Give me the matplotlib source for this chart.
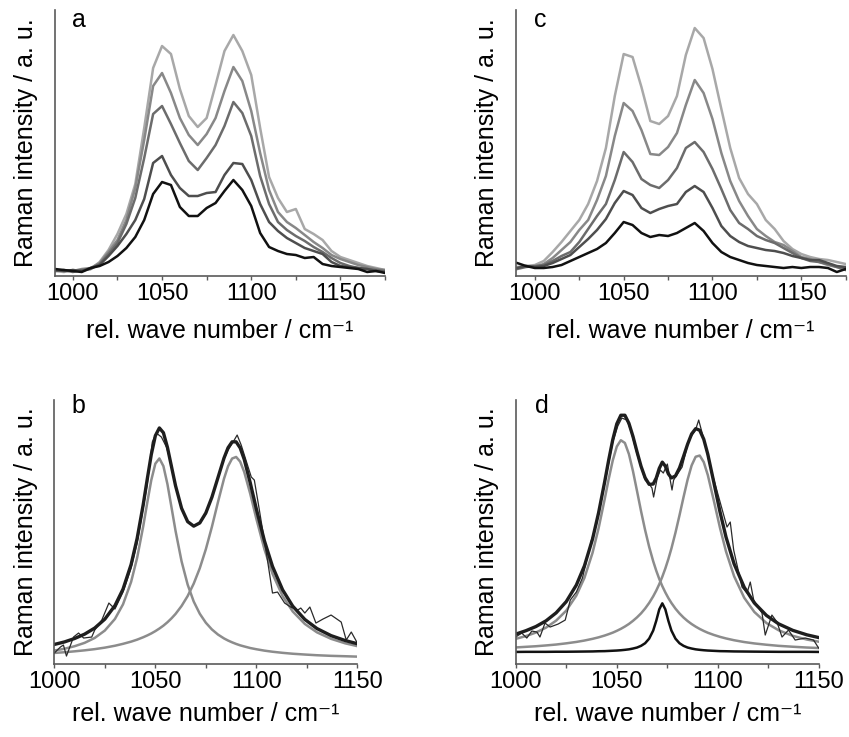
import numpy as np
import matplotlib
matplotlib.use("Agg")
import matplotlib.pyplot as plt
from matplotlib.ticker import MultipleLocator

plt.rcParams['font.family'] = ['Liberation Sans', 'DejaVu Sans']

# ---- panels a / c : raw spectra (heights in arbitrary units) ----
wn_top = np.arange(990, 1180, 5)

a_1 = [7, 6, 5, 4, 8, 10, 14, 20, 28, 39, 56, 82, 94, 91, 69, 60, 60, 68, 73, 85,
       96, 86, 70, 43, 29, 25, 22, 21, 18, 19, 12, 10, 9, 8, 7, 4, 5, 3]
a_2 = [6, 5, 6, 5, 8, 11, 20, 30, 42, 56, 77, 113, 120, 101, 88, 80, 80, 83, 84, 101,
       113, 112, 96, 72, 54, 45, 38, 33, 28, 25, 22, 14, 10, 9, 8, 7, 5, 4]
a_3 = [5, 6, 4, 6, 7, 12, 22, 33, 52, 78, 118, 162, 170, 152, 133, 115, 106, 118, 131, 150,
       174, 163, 140, 100, 72, 54, 46, 40, 35, 29, 24, 18, 13, 10, 8, 7, 6, 5]
a_4 = [6, 5, 5, 7, 8, 13, 24, 36, 56, 88, 136, 190, 203, 183, 158, 141, 131, 142, 158, 185,
       209, 195, 165, 123, 86, 64, 54, 48, 41, 34, 28, 21, 17, 14, 11, 9, 7, 6]
a_5 = [5, 4, 6, 5, 7, 14, 26, 42, 62, 92, 148, 208, 230, 222, 187, 160, 149, 158, 191, 225,
       241, 225, 201, 148, 99, 78, 64, 67, 47, 42, 36, 25, 19, 16, 13, 10, 8, 6]

c_1 = [13, 10, 8, 8, 9, 11, 15, 19, 23, 27, 33, 43, 54, 51, 43, 39, 41, 40, 43, 48,
       53, 45, 33, 24, 19, 16, 13, 11, 10, 9, 8, 9, 8, 9, 9, 8, 4, 7]
c_2 = [8, 10, 9, 10, 13, 17, 21, 29, 37, 46, 57, 73, 85, 81, 68, 63, 67, 70, 72, 84,
       90, 84, 68, 50, 40, 34, 30, 28, 26, 25, 23, 20, 18, 16, 16, 13, 10, 9]
c_3 = [7, 9, 10, 11, 15, 20, 24, 34, 47, 60, 72, 96, 124, 114, 97, 91, 88, 96, 108, 128,
       134, 124, 107, 87, 66, 53, 47, 40, 36, 33, 28, 23, 18, 15, 14, 12, 9, 6]
c_4 = [8, 10, 9, 12, 18, 26, 34, 46, 56, 76, 100, 140, 173, 165, 146, 122, 121, 129, 143, 171,
       196, 183, 157, 123, 95, 75, 60, 47, 40, 34, 31, 25, 19, 17, 14, 11, 9, 8]
c_5 = [9, 10, 11, 15, 24, 34, 45, 56, 72, 95, 128, 180, 222, 219, 189, 155, 152, 160, 180, 221,
       248, 238, 207, 167, 128, 98, 82, 72, 56, 47, 35, 27, 22, 19, 17, 16, 14, 12]

top_colors = ['#111111', '#4e4e4e', '#6c6c6c', '#888888', '#a8a8a8']

# ---- panel b : two-band fit ----
b_wn = [1000, 1005, 1010, 1015, 1020, 1025, 1030, 1034, 1038, 1041, 1044, 1046, 1048,
        1050, 1052, 1054, 1056, 1058, 1060, 1063, 1066, 1069, 1072, 1075, 1078, 1081,
        1084, 1086, 1088, 1090, 1092, 1094, 1097, 1100, 1104, 1108, 1113, 1118, 1124,
        1130, 1137, 1144, 1150]
b_peak1 = [13.5, 15.3, 17.8, 21.2, 26.1, 33.5, 45.1, 59.7, 82.1, 106.3, 137.7, 161.4, 184.0,
           200.4, 205.6, 197.9, 179.8, 156.7, 133.2, 102.6, 79.4, 62.5, 50.3, 41.3, 34.6, 29.5,
           25.6, 23.5, 21.7, 20.1, 18.7, 17.6, 16.0, 14.8, 13.4, 12.3, 11.2, 10.3, 9.5,
           8.8, 8.2, 7.8, 7.4]
b_peak2 = [11.1, 11.8, 12.7, 13.7, 14.9, 16.4, 18.3, 20.2, 22.4, 24.4, 26.8, 28.6, 30.6,
           32.9, 35.5, 38.4, 41.8, 45.7, 50.1, 58.1, 68.0, 80.4, 95.8, 114.8, 137.2, 161.9,
           185.4, 197.8, 205.5, 207.1, 202.4, 192.1, 170.1, 145.3, 114.8, 90.3, 68.0, 52.6, 40.1,
           31.7, 25.2, 20.7, 17.9]
b_base = 5.0

b_data_wn = [1000, 1003, 1004.5, 1006, 1009.5, 1012, 1014.5, 1018.5, 1020, 1023.5, 1027, 1030,
             1034, 1038, 1041, 1044, 1046, 1048.5, 1050.5, 1053, 1055.5, 1058, 1060, 1063, 1066,
             1069, 1072, 1075, 1078, 1081, 1084, 1086, 1088.5, 1090.5, 1092.5, 1095, 1097.5,
             1099, 1101.5, 1105.5, 1108, 1110.5, 1114, 1117, 1120.5, 1122, 1124, 1126.5,
             1129.5, 1133, 1137, 1142, 1144.5, 1147, 1150]
b_data = [11, 17, 19, 8, 27, 31, 26, 27, 34, 44, 61, 55, 72, 96, 121, 156, 180, 222, 231, 227,
          217, 199, 178, 155, 142, 138, 141, 150, 167, 186, 205, 214, 222, 229, 219, 203, 187,
          184, 154, 104, 71, 72, 61, 57, 54, 56, 51, 57, 41, 45, 49, 42, 24, 32, 21]

# ---- panel d : three-band fit ----
d_wn = [1000, 1005, 1010, 1015, 1020, 1025, 1030, 1034, 1038, 1041, 1044, 1046, 1048, 1050,
        1052, 1054, 1056, 1058, 1060, 1062, 1064, 1066, 1068, 1069.5, 1071, 1072.5, 1074,
        1075.5, 1077, 1079, 1081, 1083, 1085, 1087, 1089, 1091, 1093, 1095, 1098, 1101,
        1104, 1108, 1113, 1118, 1124, 1130, 1137, 1144, 1150]
d_peak1 = [25.2, 27.9, 31.5, 36.4, 43.4, 53.4, 68.5, 86.2, 111.2, 135.8, 164.8, 185.1, 203.6,
           217.5, 223.8, 221.1, 209.9, 192.9, 173.0, 152.8, 134.0, 117.2, 102.8, 93.4, 85.1,
           77.9, 71.6, 66.0, 61.1, 55.4, 50.6, 46.5, 43.0, 40.0, 37.4, 35.1, 33.1, 31.3, 29.1,
           27.2, 25.6, 23.8, 22.0, 20.6, 19.3, 18.2, 17.3, 16.5, 16.0]
d_peak2 = [16.6, 17.2, 17.8, 18.6, 19.5, 20.7, 22.1, 23.5, 25.2, 26.7, 28.5, 29.9, 31.4,
           33.2, 35.2, 37.5, 40.1, 43.2, 46.7, 50.7, 55.5, 61.1, 67.7, 73.4, 79.9,
           87.3, 95.6, 105.0, 115.5, 131.3, 148.7, 166.9, 184.3, 198.6, 207.3, 208.5, 201.9,
           189.0, 163.2, 136.4, 112.6, 87.8, 66.3, 52.1, 41.0, 33.8, 28.2, 24.5, 22.3]
d_peak3 = [12.1, 12.2, 12.2, 12.2, 12.3, 12.3, 12.4, 12.5, 12.6, 12.8, 12.9, 13.1, 13.3,
           13.5, 13.8, 14.2, 14.7, 15.5, 16.5, 18.2, 20.8, 25.4, 33.5, 43.2, 54.7,
           60.7, 54.7, 43.2, 33.5, 25.4, 20.8, 18.2, 16.5, 15.5, 14.7, 14.2, 13.8, 13.5, 13.2,
           12.9, 12.8, 12.6, 12.5, 12.4, 12.3, 12.2, 12.2, 12.2, 12.1]
d_base = 12.0

d_data_wn = [1000, 1003, 1005.5, 1008, 1010.5, 1012, 1014.5, 1017, 1021, 1024.5, 1027, 1030,
             1033, 1037.5, 1040, 1044, 1048, 1050.5, 1052.5, 1055, 1057, 1060, 1062.5, 1064,
             1066, 1067.4, 1068.2, 1070, 1071.5, 1073, 1075, 1077.3, 1078.1, 1080, 1082.3,
             1085.6, 1088.9, 1090.5, 1092.2, 1095.5, 1097.1, 1100.4, 1104.5, 1106.1, 1107.8,
             1111.9, 1114.4, 1116, 1117.7, 1121.8, 1123.4, 1126.7, 1129.2, 1131.7, 1134.9,
             1138.2, 1143.2, 1147.3, 1149.8]
d_data = [27, 31, 26, 33, 32, 27, 41, 37, 40, 44, 64, 72, 86, 124, 140, 180, 222, 238, 246,
          244, 233, 210, 194, 184, 180, 176, 167, 186, 194, 191, 200, 174, 184, 190, 197, 224,
          234, 244, 231, 204, 191, 167, 137, 142, 114, 77, 71, 82, 64, 51, 29, 49, 42, 27, 34,
          24, 26, 24, 16]

band_gray = '#8c8c8c'
x_title = 'rel. wave number / cm\u207b\u00b9'

fig = plt.figure(figsize=(8.49, 7.37), dpi=100)
ax_a = fig.add_axes([0.0648, 0.6255, 0.3887, 0.3609])
ax_c = fig.add_axes([0.6074, 0.6255, 0.3887, 0.3609])
ax_b = fig.add_axes([0.0640, 0.0990, 0.3569, 0.3582])
ax_d = fig.add_axes([0.6074, 0.0990, 0.3573, 0.3582])

for ys, col in zip([a_5, a_4, a_3, a_2, a_1], top_colors[::-1]):
    ax_a.plot(wn_top, ys, color=col, lw=1.8)
for ys, col in zip([c_5, c_4, c_3, c_2, c_1], top_colors[::-1]):
    ax_c.plot(wn_top, ys, color=col, lw=1.8)

b_fit = np.array(b_peak1) + np.array(b_peak2) - b_base
ax_b.plot(b_wn, b_peak1, color=band_gray, lw=1.8)
ax_b.plot(b_wn, b_peak2, color=band_gray, lw=1.8)
ax_b.plot(b_data_wn, b_data, color='#2a2a2a', lw=0.9)
ax_b.plot(b_wn, b_fit, color='#1e1e1e', lw=2.4)

d_fit = np.array(d_peak1) + np.array(d_peak2) + np.array(d_peak3) - 2 * d_base
ax_d.plot(d_wn, d_peak1, color=band_gray, lw=1.8)
ax_d.plot(d_wn, d_peak2, color=band_gray, lw=1.8)
ax_d.plot(d_wn, d_peak3, color='#111111', lw=1.8)
ax_d.plot(d_data_wn, d_data, color='#2a2a2a', lw=0.9)
ax_d.plot(d_wn, d_fit, color='#1e1e1e', lw=2.4)

ax_a.set_xlim(990, 1175)
ax_c.set_xlim(989.2, 1175)
ax_b.set_xlim(1000, 1150)
ax_d.set_xlim(1000, 1150)
for ax in (ax_a, ax_c):
    ax.set_ylim(0, 266)
for ax in (ax_b, ax_d):
    ax.set_ylim(0, 264)

letters = {ax_a: ('a', 0.050), ax_c: ('c', 0.056), ax_b: ('b', 0.058), ax_d: ('d', 0.064)}
for ax, (lab, lx) in letters.items():
    ax.spines['top'].set_visible(False)
    ax.spines['right'].set_visible(False)
    for s in ('left', 'bottom'):
        ax.spines[s].set_color('#5a5a5a')
        ax.spines[s].set_linewidth(1.2)
    ax.set_yticks([])
    ax.xaxis.set_major_locator(MultipleLocator(50))
    ax.xaxis.set_minor_locator(MultipleLocator(25))
    ax.tick_params(axis='x', which='both', direction='out', length=3.2, width=1.0,
                   color='#5a5a5a', labelsize=17, pad=2)
    ax.set_ylabel('Raman intensity / a. u.', fontsize=18, labelpad=12)
    ly = 0.936 if ax in (ax_a, ax_c) else 0.950
    ax.text(lx, ly, lab, transform=ax.transAxes, fontsize=18, ha='left', va='baseline')

for ax in (ax_a, ax_c):
    ax.set_xlabel(x_title, fontsize=18, labelpad=10)
for ax in (ax_b, ax_d):
    ax.set_xlabel(x_title, fontsize=18, labelpad=6)

fig.savefig('out.png', dpi=100)
